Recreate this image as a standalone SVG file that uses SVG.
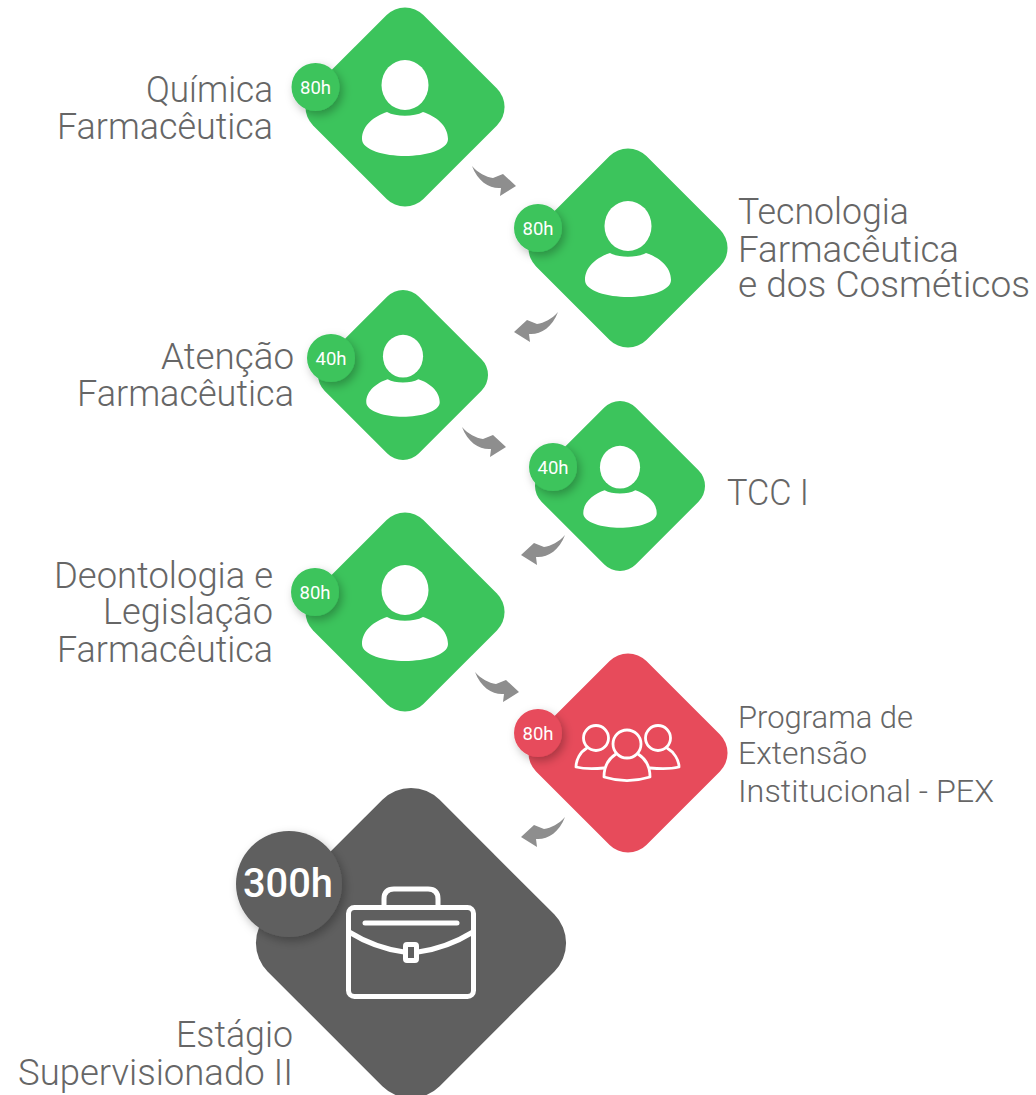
<svg xmlns="http://www.w3.org/2000/svg" width="1036" height="1095" viewBox="0 0 1036 1095">
<style>
.g{fill:#3cc45c}.r{fill:#e74b5b}.k{fill:#5f5f5f}
.t{font-family:"Roboto","Liberation Sans",sans-serif;font-weight:300;fill:#666;font-size:36px}
.s{font-size:31px}
.b{font-family:"Roboto","Liberation Sans",sans-serif;font-weight:400;fill:#fff;font-size:18px;text-anchor:middle}
.o{fill:none;stroke:#fff;stroke-width:2.8;stroke-linejoin:round;stroke-linecap:round}
.w{fill:none;stroke:#fff;stroke-width:5;stroke-linejoin:round;stroke-linecap:round}
</style>
<defs>
<filter id="sh" x="-40%" y="-40%" width="190%" height="190%"><feDropShadow dx="3" dy="4" stdDeviation="5" flood-color="#000" flood-opacity="0.28"/></filter>
<rect id="dia" x="-78" y="-78" width="156" height="156" rx="26" transform="rotate(45)"/>
<g id="person"><ellipse cx="0" cy="-22" rx="23.5" ry="25" fill="#fff"/><path d="M-43,32C-43,18-30,9-18,5C-9,10 9,10 18,5C30,9 43,18 43,32C43,43 20,49 0,49C-20,49-43,43-43,32Z" fill="#fff"/></g>
<path id="arr" d="M0,0C6,7 14,11 21,12L31,8L44,20L28,30L29,22C18,23 6,16 0,0Z" fill="#8e8e8e"/>
</defs>
<g id="connectors">
<use href="#arr" transform="translate(472,166)"/>
<use href="#arr" transform="translate(558,312) scale(-1,1)"/>
<use href="#arr" transform="translate(462,427)"/>
<use href="#arr" transform="translate(565,535) scale(-1,1)"/>
<use href="#arr" transform="translate(475,672)"/>
<use href="#arr" transform="translate(565,817) scale(-1,1)"/>
</g>
<g id="n1"><use href="#dia" class="g" transform="translate(405,107)"/><use href="#person" transform="translate(405,107)"/><circle cx="315.500" cy="87" r="24" class="g" filter="url(#sh)"/><text x="315.500" y="94" class="b" textLength="31" lengthAdjust="spacingAndGlyphs">80h</text>
<text x="146" y="102" class="t" textLength="127" lengthAdjust="spacingAndGlyphs">Química</text><text x="57" y="139" class="t" textLength="216" lengthAdjust="spacingAndGlyphs">Farmacêutica</text></g>
<g id="n2"><use href="#dia" class="g" transform="translate(628,248)"/><use href="#person" transform="translate(628,248)"/><circle cx="538" cy="228" r="24" class="g" filter="url(#sh)"/><text x="538" y="235" class="b" textLength="31" lengthAdjust="spacingAndGlyphs">80h</text>
<text x="738" y="224" class="t" textLength="171" lengthAdjust="spacingAndGlyphs">Tecnologia</text><text x="738" y="262" class="t" textLength="221" lengthAdjust="spacingAndGlyphs">Farmacêutica</text><text x="738" y="297" class="t" textLength="292" lengthAdjust="spacingAndGlyphs">e dos Cosméticos</text></g>
<g id="n3"><use href="#dia" class="g" transform="translate(403,375) scale(.854)"/><use href="#person" transform="translate(403,375) scale(.854)"/><circle cx="331" cy="358" r="24" class="g" filter="url(#sh)"/><text x="331" y="365" class="b" textLength="31" lengthAdjust="spacingAndGlyphs">40h</text>
<text x="161" y="369" class="t" textLength="133" lengthAdjust="spacingAndGlyphs">Atenção</text><text x="77" y="406" class="t" textLength="217" lengthAdjust="spacingAndGlyphs">Farmacêutica</text></g>
<g id="n4"><use href="#dia" class="g" transform="translate(620,486) scale(.854)"/><use href="#person" transform="translate(620,486) scale(.854)"/><circle cx="553" cy="467" r="24" class="g" filter="url(#sh)"/><text x="553" y="474" class="b" textLength="31" lengthAdjust="spacingAndGlyphs">40h</text>
<text x="727" y="505" class="t" textLength="82" lengthAdjust="spacingAndGlyphs">TCC I</text></g>
<g id="n5"><use href="#dia" class="g" transform="translate(405,612)"/><use href="#person" transform="translate(405,612)"/><circle cx="315" cy="592" r="24" class="g" filter="url(#sh)"/><text x="315" y="599" class="b" textLength="31" lengthAdjust="spacingAndGlyphs">80h</text>
<text x="54" y="588" class="t" textLength="219" lengthAdjust="spacingAndGlyphs">Deontologia e</text><text x="103" y="624" class="t" textLength="170" lengthAdjust="spacingAndGlyphs">Legislação</text><text x="57" y="662" class="t" textLength="216" lengthAdjust="spacingAndGlyphs">Farmacêutica</text></g>
<g id="n6"><use href="#dia" class="r" transform="translate(628,753)"/>
<g class="o"><circle cx="596" cy="738" r="12.500"/><circle cx="658" cy="738" r="12.500"/><path d="M587,748C580,752 576,760 576,767C584,769 594,769 604,768"/><path d="M667,748C674,752 679,760 679,767C671,769 661,769 650,768"/><circle cx="627" cy="744" r="14"/><path d="M616,754C608,759 604,768 604,777C620,782 634,782 650,777C650,768 646,759 638,754"/></g>
<circle cx="538" cy="733" r="24" class="r" filter="url(#sh)"/><text x="538" y="739.500" class="b" textLength="31" lengthAdjust="spacingAndGlyphs">80h</text>
<text x="738" y="728" class="t s" textLength="175" lengthAdjust="spacingAndGlyphs">Programa de</text><text x="738" y="764" class="t s" textLength="129" lengthAdjust="spacingAndGlyphs">Extensão</text><text x="738" y="802" class="t s" textLength="256" lengthAdjust="spacingAndGlyphs">Institucional - PEX</text></g>
<g id="n7"><use href="#dia" class="k" transform="translate(411,943) scale(1.558)"/>
<g class="w"><rect x="348.500" y="907.500" width="125" height="89" rx="6"/><path d="M384,905V899Q384,889 394,889H428Q438,889 438,899V905"/><path d="M365,923H457"/><path d="M349,932Q375,948 404,952M418,952Q447,948 473,932"/></g>
<rect x="405.500" y="944.500" width="11" height="16" rx="1.500" fill="none" stroke="#fff" stroke-width="5"/>
<circle cx="289" cy="884" r="53" class="k" filter="url(#sh)"/><text x="288" y="897" class="b" style="font-size:40px;font-weight:500" textLength="90" lengthAdjust="spacingAndGlyphs">300h</text>
<text x="176" y="1047" class="t" textLength="117" lengthAdjust="spacingAndGlyphs">Estágio</text><text x="18" y="1085" class="t" textLength="275" lengthAdjust="spacingAndGlyphs">Supervisionado II</text></g>
</svg>
